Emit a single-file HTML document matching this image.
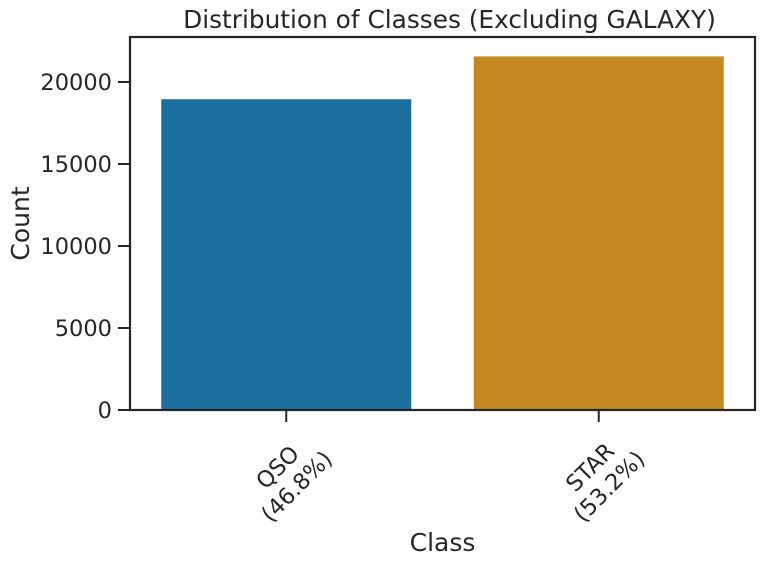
<!DOCTYPE html>
<html><head><meta charset="utf-8"><style>body{margin:0;background:#fff}svg{display:block;font-family:"DejaVu Sans","Liberation Sans",sans-serif;fill:#262626}</style></head>
<body>
<svg id="c" width="766" height="566"></svg>
<script>
const categories = ["QSO", "STAR"];
const counts = [18950, 21560];
const yTicks = [0, 5000, 10000, 15000, 20000];
const colors = ["#1a6f9f", "#c48820"];
const NS = "http://www.w3.org/2000/svg";
const svg = document.getElementById('c');
const L = 130, R = 755, T = 37, B = 410, yMax = 22744;
const y = v => B - v / yMax * (B - T);
const band = (R - L) / categories.length;
const xc = i => L + band * (i + 0.5);
const total = counts.reduce((a, b) => a + b, 0);
function mk(tag, attrs, txt) {
  const e = document.createElementNS(NS, tag);
  for (const k in attrs) e.setAttribute(k, attrs[k]);
  if (txt !== undefined) e.textContent = txt;
  svg.appendChild(e);
  return e;
}
categories.forEach((c, i) => {
  const bw = band * 0.8;
  const r = mk('rect', {x: xc(i) - bw / 2, y: y(counts[i]), width: bw, height: B - y(counts[i]), fill: colors[i]});
  
  
  const tk = mk('line', {x1: xc(i), x2: xc(i), y1: B, y2: B + 12, stroke: '#262626', 'stroke-width': 2});
  
  
  const cx = xc(i) + 1, cy = 477;
  const t = mk('text', {transform: `translate(${cx},${cy}) rotate(-45)`, 'text-anchor': 'middle', 'font-size': 22.5});
  
  
  const s1 = document.createElementNS(NS, 'tspan'); s1.setAttribute('x', 0); s1.setAttribute('y', -6); s1.textContent = c; t.appendChild(s1);
  const s2 = document.createElementNS(NS, 'tspan'); s2.setAttribute('x', 0); s2.setAttribute('y', 21); s2.textContent = '(' + (counts[i] / total * 100).toFixed(1) + '%)'; t.appendChild(s2);
});
yTicks.forEach(v => {
  const tk = mk('line', {x1: L - 12, x2: L, y1: y(v), y2: y(v), stroke: '#262626', 'stroke-width': 2});
  
  
  const t = mk('text', {x: L - 18, y: y(v) + 8, 'text-anchor': 'end', 'font-size': 22.5}, String(v));
  
  
});
const frame = mk('rect', {x: L, y: T, width: R - L, height: B - T, fill: 'none', stroke: '#262626', 'stroke-width': 2.2});


const title = mk('text', {x: (L + R) / 2 + 7, y: 28, 'text-anchor': 'middle', 'font-size': 24.8}, 'Distribution of Classes (Excluding GALAXY)');


const xt = mk('text', {x: (L + R) / 2, y: 551, 'text-anchor': 'middle', 'font-size': 25}, 'Class');


const yt = mk('text', {transform: `translate(29,${(T + B) / 2}) rotate(-90)`, 'text-anchor': 'middle', 'font-size': 25}, 'Count');


</script>
</body></html>
